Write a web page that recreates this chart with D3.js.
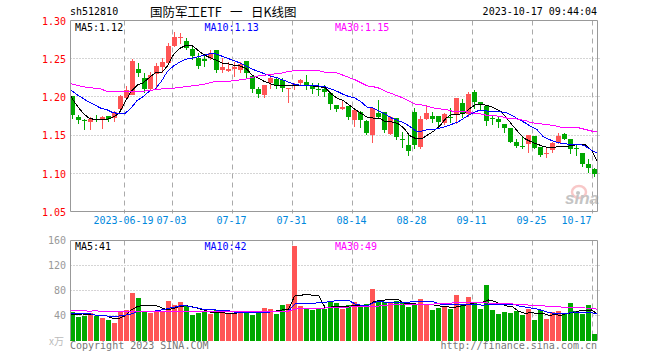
<!DOCTYPE html>
<html>
<head>
<meta charset="utf-8">
<title>sh512810</title>
<script src="https://cdn.jsdelivr.net/npm/d3@7"></script>
<style>
    html, body {margin: 0; padding: 0; background: #fff;}
    svg {display: block;}
    text {font-family: "DejaVu Sans Mono", monospace; font-size: 10px;}
</style>
</head>
<body>
<div id="chart"></div>
<script>
var opens = [1.2022,1.1743,1.1704,1.1682,1.1721,1.1708,1.1756,1.1730,1.1848,1.1996,1.2036,1.2372,1.2249,1.2105,1.2306,1.2402,1.2450,1.2668,1.2777,1.2734,1.2638,1.2515,1.2498,1.2511,1.2616,1.2358,1.2350,1.2372,1.2358,1.2472,1.2280,1.2110,1.2031,1.2193,1.2241,1.2232,1.2114,1.2162,1.2193,1.2197,1.2145,1.2105,1.2110,1.2062,1.1900,1.1848,1.1887,1.1708,1.1813,1.1695,1.1512,1.1796,1.1804,1.1521,1.1726,1.1460,1.1377,1.1809,1.1351,1.1717,1.1756,1.1752,1.1660,1.1747,1.1765,1.1926,1.1778,1.2066,1.1935,1.1887,1.1726,1.1717,1.1651,1.1599,1.1416,1.1364,1.1394,1.1494,1.1350,1.1259,1.1307,1.1403,1.1516,1.1455,1.1333,1.1272,1.1132,1.1063];
var closes = [1.1774,1.1704,1.1695,1.1721,1.1700,1.1739,1.1713,1.1804,1.2022,1.2097,1.2476,1.2319,1.2110,1.2293,1.2411,1.2463,1.2673,1.2790,1.2786,1.2646,1.2542,1.2411,1.2481,1.2577,1.2358,1.2398,1.2372,1.2402,1.2441,1.2324,1.2110,1.2044,1.2162,1.2254,1.2162,1.2119,1.2123,1.2175,1.2228,1.2153,1.2110,1.2097,1.2075,1.1914,1.1848,1.1874,1.1743,1.1835,1.1708,1.1534,1.1857,1.1739,1.1573,1.1739,1.1486,1.1451,1.1298,1.1377,1.1717,1.1796,1.1717,1.1682,1.1782,1.1739,1.1992,1.1796,1.2049,1.1935,1.1900,1.1695,1.1717,1.1682,1.1599,1.1416,1.1364,1.1359,1.1503,1.1342,1.1246,1.1267,1.1403,1.1494,1.1459,1.1329,1.1324,1.1132,1.1076,1.0993];
var highs = [1.2022,1.1769,1.1713,1.1739,1.1769,1.1756,1.1756,1.1822,1.2031,1.2149,1.2498,1.2450,1.2324,1.2337,1.2454,1.2511,1.2708,1.2856,1.2847,1.2773,1.2664,1.2577,1.2559,1.2620,1.2620,1.2511,1.2467,1.2467,1.2467,1.2481,1.2280,1.2140,1.2162,1.2293,1.2258,1.2258,1.2123,1.2184,1.2241,1.2293,1.2184,1.2184,1.2162,1.2066,1.1900,1.1957,1.1892,1.1844,1.1826,1.1704,1.1870,1.1966,1.1813,1.1756,1.1735,1.1551,1.1508,1.1866,1.1761,1.1900,1.1804,1.1752,1.1791,1.1857,1.1996,1.1979,1.2075,1.2097,1.1944,1.1900,1.1761,1.1739,1.1651,1.1599,1.1455,1.1486,1.1503,1.1494,1.1355,1.1333,1.1412,1.1538,1.1538,1.1455,1.1377,1.1272,1.1193,1.1071];
var lows = [1.1717,1.1647,1.1577,1.1573,1.1678,1.1591,1.1678,1.1682,1.1844,1.1979,1.2027,1.2271,1.2062,1.2097,1.2105,1.2324,1.2446,1.2664,1.2703,1.2620,1.2489,1.2372,1.2393,1.2489,1.2315,1.2324,1.2332,1.2271,1.2324,1.2258,1.2058,1.1996,1.1996,1.2110,1.2110,1.2075,1.1927,1.2092,1.2162,1.2097,1.2049,1.2023,1.2005,1.1835,1.1809,1.1835,1.1704,1.1612,1.1604,1.1508,1.1407,1.1735,1.1530,1.1512,1.1442,1.1333,1.1237,1.1324,1.1324,1.1704,1.1669,1.1617,1.1638,1.1660,1.1647,1.1734,1.1748,1.1848,1.1822,1.1630,1.1638,1.1604,1.1529,1.1407,1.1342,1.1324,1.1276,1.1324,1.1224,1.1211,1.1272,1.1385,1.1442,1.1259,1.1233,1.1089,1.1015,1.0958];

var priceMa5 = [1.202,1.190,1.180,1.173,1.171,1.171,1.171,1.174,1.179,1.194,1.208,1.216,1.219,1.226,1.232,1.232,1.241,1.256,1.264,1.268,1.268,1.262,1.256,1.252,1.249,1.245,1.244,1.242,1.241,1.238,1.229,1.225,1.221,1.218,1.215,1.215,1.215,1.215,1.215,1.215,1.215,1.214,1.213,1.205,1.199,1.196,1.190,1.184,1.179,1.174,1.173,1.173,1.168,1.168,1.166,1.160,1.150,1.146,1.146,1.151,1.156,1.163,1.173,1.178,1.178,1.179,1.186,1.191,1.191,1.189,1.186,1.182,1.173,1.163,1.154,1.146,1.142,1.139,1.136,1.134,1.135,1.136,1.136,1.137,1.139,1.138,1.131,1.116];
var priceMa10 = [1.210,1.204,1.199,1.194,1.190,1.186,1.184,1.180,1.179,1.179,1.186,1.196,1.201,1.208,1.211,1.221,1.234,1.241,1.246,1.250,1.251,1.253,1.255,1.257,1.257,1.254,1.251,1.248,1.245,1.241,1.237,1.234,1.231,1.228,1.226,1.223,1.220,1.217,1.216,1.216,1.216,1.215,1.214,1.211,1.208,1.204,1.201,1.199,1.194,1.187,1.186,1.182,1.178,1.173,1.170,1.167,1.162,1.156,1.156,1.158,1.158,1.160,1.162,1.165,1.168,1.173,1.178,1.182,1.183,1.182,1.181,1.181,1.180,1.176,1.171,1.167,1.162,1.158,1.149,1.145,1.142,1.140,1.139,1.139,1.139,1.136,1.131,1.127];
var priceMa30 = [1.218,1.216,1.214,1.213,1.212,1.211,1.208,1.208,1.208,1.208,1.208,1.208,1.208,1.209,1.210,1.211,1.212,1.212,1.213,1.214,1.215,1.216,1.217,1.219,1.221,1.221,1.221,1.222,1.223,1.224,1.226,1.228,1.229,1.230,1.231,1.232,1.234,1.235,1.235,1.235,1.235,1.235,1.233,1.233,1.232,1.229,1.226,1.223,1.219,1.215,1.214,1.212,1.208,1.205,1.202,1.199,1.195,1.191,1.190,1.188,1.186,1.185,1.184,1.182,1.182,1.182,1.180,1.179,1.178,1.176,1.176,1.175,1.173,1.173,1.171,1.170,1.167,1.166,1.165,1.164,1.163,1.161,1.161,1.160,1.160,1.158,1.156,1.155];

var volumes = [46,37,40,43.5,40,35.5,33,28,46,49,76,68,46,44,46,46,63,57,62,56,41,44,46,42,49,43.5,42,43.5,45,45.6,41,43.5,52,50.5,42,57,58.4,151,55,50.4,49,50,51,62,60,50.4,57,61.6,56,58,82.4,63.7,61,59.5,63.7,59.5,53.6,56.8,66.4,56.8,49,52.5,53.6,50.4,72.8,58.4,69.6,60,50.4,88.8,49,42.4,45.6,44,47.2,40.8,50.4,32.8,48.8,34.4,45.6,47.2,43,60,47,42.4,56.8,10.4];
var volMa5 = [42.4,41.9,42.4,41.9,40.8,39.7,39.2,35.5,35.5,39.2,48.8,54.1,56.3,56.3,56.3,52.5,48.8,51.5,54.1,55.7,54.1,51.5,48.8,45.6,44.5,44.5,43.5,43.5,44.5,44.5,44.5,45.1,45.6,46.1,47.2,48.8,49.9,71.2,72.3,73.9,72.3,71.2,53.1,53.6,54.1,54.1,54.7,56.3,56.3,55.2,61.6,64.3,64.8,65.9,65.9,60,59,58.4,58.4,57.3,56.8,55.2,54.7,52.5,54.1,56.3,58.4,61.1,61.1,64.8,62.7,58.4,55.2,53.6,46.7,43.5,44.5,43.5,43.5,40.3,41.3,40.3,43.5,44.5,47.2,48.3,48.8,42.4];
var volMa10 = [43.5,42.9,42.4,43.5,40.8,39.7,39.2,38.1,39.2,40.3,42.4,46.1,46.1,46.1,47.2,48.8,51,53.1,55.2,55.7,53.6,52,49.9,49.3,48.8,48.8,47.7,45.6,44.5,44.5,44.5,45.1,45.6,45.6,46.1,46.7,47.2,58.4,59.5,59.5,59.5,60.5,61.1,62.7,63.7,63.7,63.7,58.4,56.3,55.2,60.5,62.7,61.1,60.5,61.6,61.6,61.6,62.1,62.1,62.1,61.6,58.4,57.9,56.8,57.9,58.4,58.4,58.4,56.3,58.4,58.4,58.4,58.4,58.4,55.2,53.6,52,50.4,47.7,44.5,43.5,43.5,43.5,45.6,45.1,45.1,44.5,42.4];
var volMa30 = [48.3,48.3,48.3,46.7,47.7,46.7,46.7,46.7,46.7,46.7,46.7,46.7,46.7,46.7,46.7,46.7,46.7,46.1,46.1,46.1,46.1,46.1,46.1,46.1,46.1,46.1,46.1,46.1,46.1,46.1,46.1,46.1,46.1,46.1,46.1,46.1,47.2,49.9,51.5,51.5,51.5,51.5,52,52.5,52.5,53.1,53.6,54.1,54.1,54.1,54.1,55.2,56.3,57.3,57.9,58.4,58.4,58.4,58.4,58.4,58.4,59,59.5,60,61.1,61.1,61.1,60.5,60.5,60,60,59.5,59,58.4,57.9,57.3,56.3,56.3,55.7,54.1,54.1,53.6,53.1,52.5,52.5,52,51.5,49.9];

var tickIndex = [9, 17, 27, 37, 47, 57, 67, 77, 87];
var tickDates = ["2023-06-19", "07-03", "07-17", "07-31", "08-14", "08-28", "09-11", "09-25", "10-17"];
var priceTicks = [1.05, 1.10, 1.15, 1.20, 1.25, 1.30];
var volumeTicks = [40, 80, 120, 160];

var maLegendPrice = ["MA5:1.12", "MA10:1.13", "MA30:1.15"];
var maLegendVolume = ["MA5:41", "MA10:42", "MA30:49"];
var maColors = ["#000000", "#0000ff", "#ff00ff"];
var red = "#ff5555", green = "#00a800", gridColor = "#aaaaaa", frameColor = "#999999";

var width = 660, height = 360;
var svg = d3.select("#chart").append("svg")
    .attr("width", width)
    .attr("height", height)
    .attr("viewBox", "0 0 " + width + " " + height);

var left = 70.5, right = 597.5;
var priceTop = 20.5, priceBottom = 211.5, volumeTop = 240.5, volumeBottom = 340.5;

var x = d3.scaleBand()
    .domain(d3.range(opens.length))
    .range([70, 597])
    .paddingInner(1 / 6)
    .paddingOuter(0);
// the MA lines run edge to edge of the frame, not candle to candle
var xLine = d3.scaleLinear().domain([0, opens.length - 1]).range([left, right]);
var y = d3.scaleLinear().domain([1.05, 1.30]).range([212, 21]);
var yVol = d3.scaleLinear().domain([0, 160]).range([volumeBottom, volumeTop]);

var isUp = i => closes[i] >= opens[i];

function drawGrid(yScale, ticks, top, bottom) {
    var g = svg.append("g");
    g.selectAll("line.h")
        .data(ticks)
        .enter().append("line")
        .attr("x1", left)
        .attr("x2", right + 2)
        .attr("y1", d => Math.round(yScale(d)) - 0.5)
        .attr("y2", d => Math.round(yScale(d)) - 0.5)
        .attr("stroke", gridColor)
        .attr("stroke-dasharray", "1,2");
    g.selectAll("line.v")
        .data(tickIndex)
        .enter().append("line")
        .attr("x1", d => x(d) + 0.5)
        .attr("x2", d => x(d) + 0.5)
        .attr("y1", top)
        .attr("y2", bottom)
        .attr("stroke", gridColor)
        .attr("stroke-dasharray", "5,4");
}

drawGrid(y, priceTicks.slice(1, 5), priceTop, priceBottom + 2);
drawGrid(yVol, volumeTicks.slice(0, 3), volumeTop, volumeBottom);

// sina watermark
var mark = svg.append("g");
mark.append("ellipse")
    .attr("cx", 579).attr("cy", 192).attr("rx", 7).attr("ry", 6)
    .attr("fill", "none").attr("stroke", "#f8c8c8").attr("stroke-width", 2.5);
mark.append("circle")
    .attr("cx", 578).attr("cy", 193).attr("r", 2)
    .attr("fill", "#c8c8c8");
mark.append("text")
    .attr("x", 565)
    .attr("y", 204)
    .attr("fill", "#c4c4c4")
    .style("font-family", "'Liberation Sans', sans-serif")
    .style("font-style", "italic")
    .style("font-weight", "bold")
    .style("font-size", "17px")
    .text("sina");

// candles
var candles = svg.append("g").selectAll("g")
    .data(d3.range(opens.length))
    .enter().append("g")
    .attr("fill", d => isUp(d) ? red : green)
    .attr("stroke", d => isUp(d) ? red : green);

candles.append("line")
    .attr("x1", d => x(d) + x.bandwidth() / 2)
    .attr("x2", d => x(d) + x.bandwidth() / 2)
    .attr("y1", d => y(highs[d]))
    .attr("y2", d => y(lows[d]))
    .attr("shape-rendering", "crispEdges");

candles.append("rect")
    .attr("x", d => x(d))
    .attr("width", x.bandwidth())
    .attr("y", d => y(Math.max(opens[d], closes[d])))
    .attr("height", d => Math.max(1, Math.abs(y(opens[d]) - y(closes[d]))))
    .attr("stroke", "none")
    .attr("shape-rendering", "crispEdges");

// volume bars
svg.append("g").selectAll("rect")
    .data(volumes)
    .enter().append("rect")
    .attr("x", (d, i) => x(i))
    .attr("width", x.bandwidth())
    .attr("y", d => yVol(d))
    .attr("height", d => yVol(0) - yVol(d))
    .attr("fill", (d, i) => isUp(i) ? red : green)
    .attr("shape-rendering", "crispEdges");

function drawLines(series, yScale) {
    var line = d3.line()
        .x((d, i) => xLine(i))
        .y(d => yScale(d));
    svg.append("g").selectAll("path")
        .data(series)
        .enter().append("path")
        .attr("d", line)
        .attr("fill", "none")
        .attr("stroke", (d, i) => maColors[i])
        .attr("stroke-width", 1)
        .attr("shape-rendering", "crispEdges");
}

drawLines([priceMa5, priceMa10, priceMa30], y);
drawLines([volMa5, volMa10, volMa30], yVol);

// frames
svg.append("path")
    .attr("d", "M" + left + "," + priceBottom + "V" + priceTop + "H" + right + "V" + priceBottom + "H" + left)
    .attr("fill", "none")
    .attr("stroke", frameColor);
svg.append("path")
    .attr("d", "M" + left + "," + volumeBottom + "V" + volumeTop + "H" + right + "V" + volumeBottom)
    .attr("fill", "none")
    .attr("stroke", frameColor);

// axes
var priceAxis = svg.append("g")
    .attr("transform", "translate(70,0)")
    .call(d3.axisLeft(y).tickValues(priceTicks).tickSize(0).tickPadding(4).tickFormat(d3.format(".2f")));
priceAxis.select(".domain").remove();
priceAxis.selectAll("text").attr("fill", "#ff0000");

var volumeAxis = svg.append("g")
    .attr("transform", "translate(70,0)")
    .call(d3.axisLeft(yVol).tickValues(volumeTicks).tickSize(0).tickPadding(4));
volumeAxis.select(".domain").remove();
volumeAxis.selectAll("text").attr("fill", "#999999");

var dateAxis = svg.append("g")
    .attr("transform", "translate(-3," + 214 + ")")
    .call(d3.axisBottom(x).tickValues(tickIndex).tickSize(0).tickPadding(3)
        .tickFormat(d => tickDates[tickIndex.indexOf(d)]));
dateAxis.select(".domain").remove();
dateAxis.selectAll("text").attr("fill", "#0088dd");
// last label does not fit under its gridline
dateAxis.selectAll("text").filter(d => d === 87).attr("dx", -15);

// header and footer texts
svg.append("text").attr("x", 70).attr("y", 15).attr("fill", "#000").text("sh512810");
var title = svg.append("text")
    .attr("x", 150)
    .attr("y", 17)
    .attr("fill", "#000")
    .style("font-family", "'Noto Sans CJK SC', sans-serif")
    .style("font-size", "12.5px");
title.append("tspan").text("国防军工ETF");
title.append("tspan").attr("x", 230).text("一");
title.append("tspan").attr("x", 251).text("日K线图");
svg.append("text").attr("x", 597).attr("y", 15).attr("text-anchor", "end").attr("fill", "#000").text("2023-10-17 09:44:04");

function drawLegend(labels, baseline) {
    svg.append("g").selectAll("text")
        .data(labels)
        .enter().append("text")
        .attr("x", (d, i) => [75, 204.5, 335][i])
        .attr("y", baseline)
        .attr("fill", (d, i) => maColors[i])
        .text(d => d);
}
drawLegend(maLegendPrice, 31);
drawLegend(maLegendVolume, 250);

svg.append("text")
    .attr("x", 64)
    .attr("y", 345)
    .attr("text-anchor", "end")
    .attr("fill", "#bbbbbb")
    .style("font-family", "'Noto Sans CJK SC', sans-serif")
    .text("x万");
svg.append("text").attr("x", 70).attr("y", 349).attr("fill", "#777777").text("Copyright 2023 SINA.COM");
svg.append("text").attr("x", 597).attr("y", 349).attr("text-anchor", "end").attr("fill", "#777777").text("http://finance.sina.com.cn");
</script>
</body>
</html>
